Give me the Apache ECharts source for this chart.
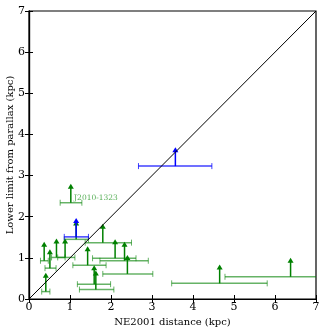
<!DOCTYPE html>
<html>
<head>
<meta charset="utf-8">
<script src="https://cdn.jsdelivr.net/npm/echarts@6/dist/echarts.min.js"></script>
<style>
html, body { margin: 0; padding: 0; background: #fff; }
#main { width: 325px; height: 332px; }
</style>
</head>
<body>
<div id="main"></div>
<script>
// green pulsars: NE2001 distance, parallax lower limit, distance error range
var greenX  = [1.02, 0.37, 0.51, 0.41, 0.67, 0.88, 1.15, 1.80, 1.43, 2.10, 2.33, 2.40, 1.59, 1.63, 4.65, 6.38];
var greenY  = [2.34, 0.93, 0.75, 0.18, 1.01, 1.01, 1.45, 1.37, 0.82, 0.99, 0.93, 0.61, 0.36, 0.23, 0.38, 0.54];
var greenLo = [0.76, 0.28, 0.39, 0.31, 0.55, 0.70, 0.86, 1.37, 1.07, 1.55, 1.73, 1.80, 1.18, 1.23, 3.48, 4.78];
var greenHi = [1.29, 0.47, 0.66, 0.51, 0.88, 1.12, 1.45, 2.50, 1.88, 2.61, 2.91, 3.02, 1.99, 2.07, 5.81, 7.60];

// blue pulsars
var blueX  = [3.57, 1.15];
var blueY  = [3.23, 1.51];
var blueLo = [2.67, 0.86];
var blueHi = [4.46, 1.45];

var ticks = [0, 1, 2, 3, 4, 5, 6, 7];
var labelName = 'J2010-1323';
var labelPos = [1.10, 2.46];

var arrowLen = 0.46; // length of the lower-limit arrows (kpc)

function rows(xs, ys, lo, hi) {
	var out = [];
	for (var i = 0; i < xs.length; i++) out.push([xs[i], ys[i], lo[i], hi[i]]);
	return out;
}

function errItem(color, barColor) {
	return function (params, api) {
		var x = api.value(0), y = api.value(1);
		var p = api.coord([x, y]);
		var lo = api.coord([api.value(2), y]);
		var hi = api.coord([api.value(3), y]);
		var tip = api.coord([x, y + arrowLen]);
		var c = 3;
		return {
			type: 'group',
			children: [
				{type: 'line', shape: {x1: lo[0], y1: lo[1], x2: hi[0], y2: hi[1]}, style: {stroke: barColor, lineWidth: 1.5}},
				{type: 'line', shape: {x1: lo[0], y1: lo[1] - c, x2: lo[0], y2: lo[1] + c}, style: {stroke: barColor, lineWidth: 1}},
				{type: 'line', shape: {x1: hi[0], y1: hi[1] - c, x2: hi[0], y2: hi[1] + c}, style: {stroke: barColor, lineWidth: 1}},
				{type: 'line', shape: {x1: p[0], y1: p[1], x2: tip[0], y2: tip[1] + 3}, style: {stroke: color, lineWidth: 1.5}},
				{type: 'polygon', shape: {points: [[tip[0], tip[1]], [tip[0] - 3, tip[1] + 5], [tip[0] + 3, tip[1] + 5]]}, style: {fill: color}}
			]
		};
	};
}

var font = 'DejaVu Serif';
var myChart = echarts.init(document.getElementById('main'));
var option = {
	animation: false,
	grid: {left: 29, right: 9, top: 11, bottom: 33, containLabel: false, outerBoundsMode: 'none',
		show: true, borderColor: '#000', borderWidth: 1.2},
	xAxis: [{
		type: 'value', min: 0, max: 7, interval: 1,
		name: 'NE2001 distance (kpc)', nameLocation: 'middle', nameGap: 18,
		nameTextStyle: {fontFamily: font, fontSize: 10, color: '#000'},
		axisLine: {show: true, lineStyle: {color: '#000', width: 1.2}},
		axisTick: {inside: true, length: 4, lineStyle: {color: '#000'}},
		axisLabel: {fontFamily: font, fontSize: 11, color: '#000', margin: 3,
			formatter: function (v) { return ticks.indexOf(v) >= 0 ? String(v) : ''; }},
		splitLine: {show: false}
	}, {
		type: 'value', min: 0, max: 7, interval: 1, position: 'top',
		axisLine: {show: true, lineStyle: {color: '#000', width: 1.2}},
		axisTick: {inside: true, length: 4, lineStyle: {color: '#000'}},
		axisLabel: {show: false}, splitLine: {show: false}
	}],
	yAxis: [{
		type: 'value', min: 0, max: 7, interval: 1,
		name: 'Lower limit from parallax (kpc)', nameLocation: 'middle', nameGap: 14, nameMoveOverlap: false,
		nameTextStyle: {fontFamily: font, fontSize: 10, color: '#000'},
		axisLine: {show: true, lineStyle: {color: '#000', width: 1.2}},
		axisTick: {inside: true, length: 4, lineStyle: {color: '#000'}},
		axisLabel: {fontFamily: font, fontSize: 11, color: '#000', margin: 4},
		splitLine: {show: false}
	}, {
		type: 'value', min: 0, max: 7, interval: 1, position: 'right',
		axisLine: {show: true, lineStyle: {color: '#000', width: 1.2}},
		axisTick: {inside: true, length: 4, lineStyle: {color: '#000'}},
		axisLabel: {show: false}, splitLine: {show: false}
	}],
	series: [{
		type: 'line', data: [[0, 0], [7, 7]], showSymbol: false, symbol: 'none',
		lineStyle: {color: '#000', width: 1}, silent: true
	}, {
		type: 'custom', renderItem: errItem('#008000', 'rgba(0,128,0,0.6)'),
		data: rows(greenX, greenY, greenLo, greenHi), encode: {x: 0, y: 1}, clip: true
	}, {
		type: 'custom', renderItem: errItem('#0000ff', 'rgba(0,0,255,0.75)'),
		data: rows(blueX, blueY, blueLo, blueHi), encode: {x: 0, y: 1}, clip: true
	}, {
		type: 'scatter', data: [labelPos], symbolSize: 0,
		label: {show: true, position: 'right', distance: 0, formatter: labelName,
			fontFamily: font, fontSize: 7.5, color: '#2a9a2a'}
	}]
};
myChart.setOption(option);
</script>
</body>
</html>
